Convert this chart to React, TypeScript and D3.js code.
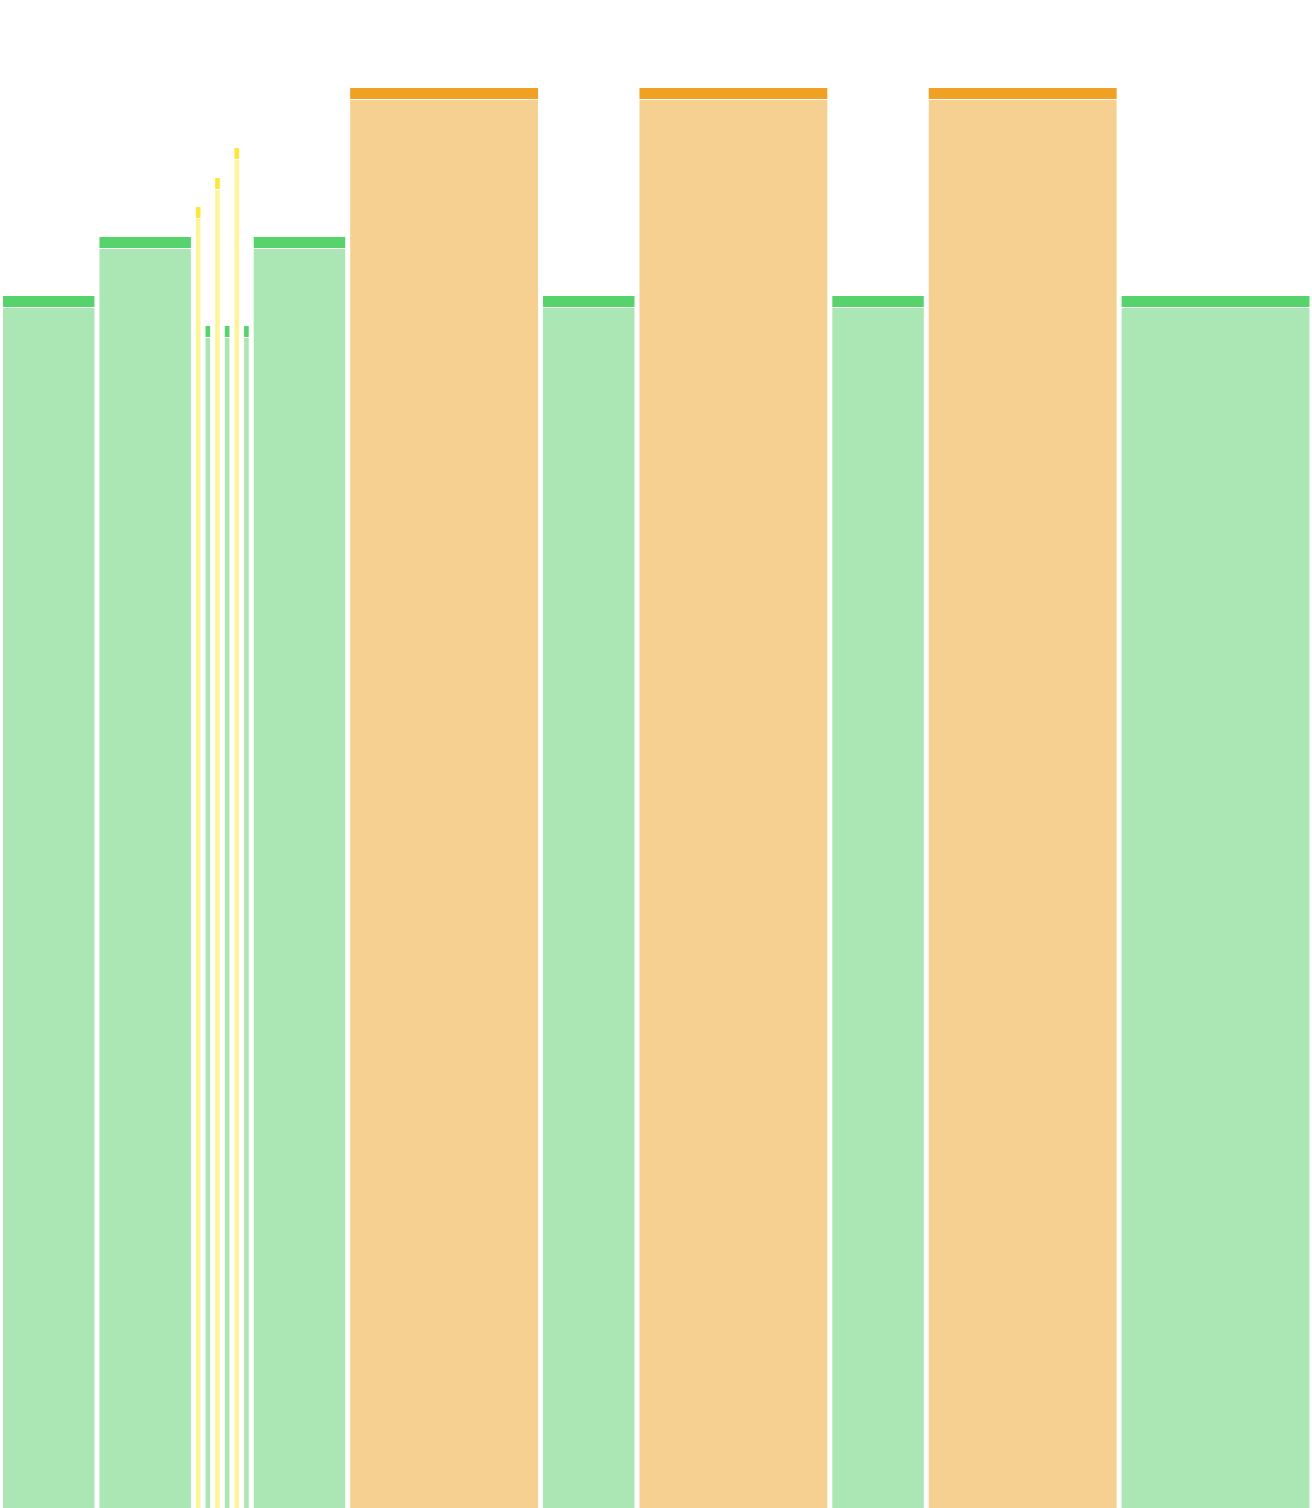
import React from 'react';
import { scaleLinear, scaleOrdinal } from 'd3';

const WIDTH = 1312;
const HEIGHT = 1508;

// one entry per bar, left to right
const groups = ['g', 'g', 'y', 'g', 'y', 'g', 'y', 'g', 'g', 'o', 'g', 'o', 'g', 'o', 'g'];
const weights = [1, 1, 0.1, 0.1, 0.1, 0.1, 0.1, 0.1, 1, 2, 1, 2, 1, 2, 2];
const values = [1212, 1271, 1301, 1182, 1330, 1182, 1360, 1182, 1271, 1420, 1212, 1420, 1212, 1420, 1212];

const groupKeys = ['g', 'y', 'o'];
const capColors = ['#57d36b', '#fde83a', '#f0a023'];
const bodyColors = ['#abe7b5', '#fef59b', '#f6d091'];

const App: React.FC = () => {
  const total = weights.reduce((a, b) => a + b, 0);
  const xScale = scaleLinear().domain([0, total]).range([0.5, WIDTH]);
  const yScale = scaleLinear().domain([0, 1500]).range([HEIGHT, 8]);
  const capColor = scaleOrdinal<string, string>().domain(groupKeys).range(capColors);
  const bodyColor = scaleOrdinal<string, string>().domain(groupKeys).range(bodyColors);

  const pad = 2.5;
  const capH = 11;
  let cum = 0;
  const bars = values.map((v, i) => {
    const x0 = xScale(cum) + pad;
    const x1 = xScale(cum + weights[i]) - pad;
    cum += weights[i];
    return { x: x0, w: Math.max(0, x1 - x0), top: yScale(v), g: groups[i] };
  });

  return (
    <div style={{ position: 'absolute', left: 0, top: 0, width: WIDTH, height: HEIGHT, background: '#fff' }}>
      <svg width={WIDTH} height={HEIGHT} style={{ display: 'block' }}>
        {bars.map((b, i) => (
          <g key={i}>
            <rect x={b.x} y={b.top} width={b.w} height={capH} fill={capColor(b.g)} />
            <rect
              x={b.x}
              y={b.top + capH + 1}
              width={b.w}
              height={HEIGHT - (b.top + capH + 1)}
              fill={bodyColor(b.g)}
            />
          </g>
        ))}
      </svg>
    </div>
  );
};

export default App;
